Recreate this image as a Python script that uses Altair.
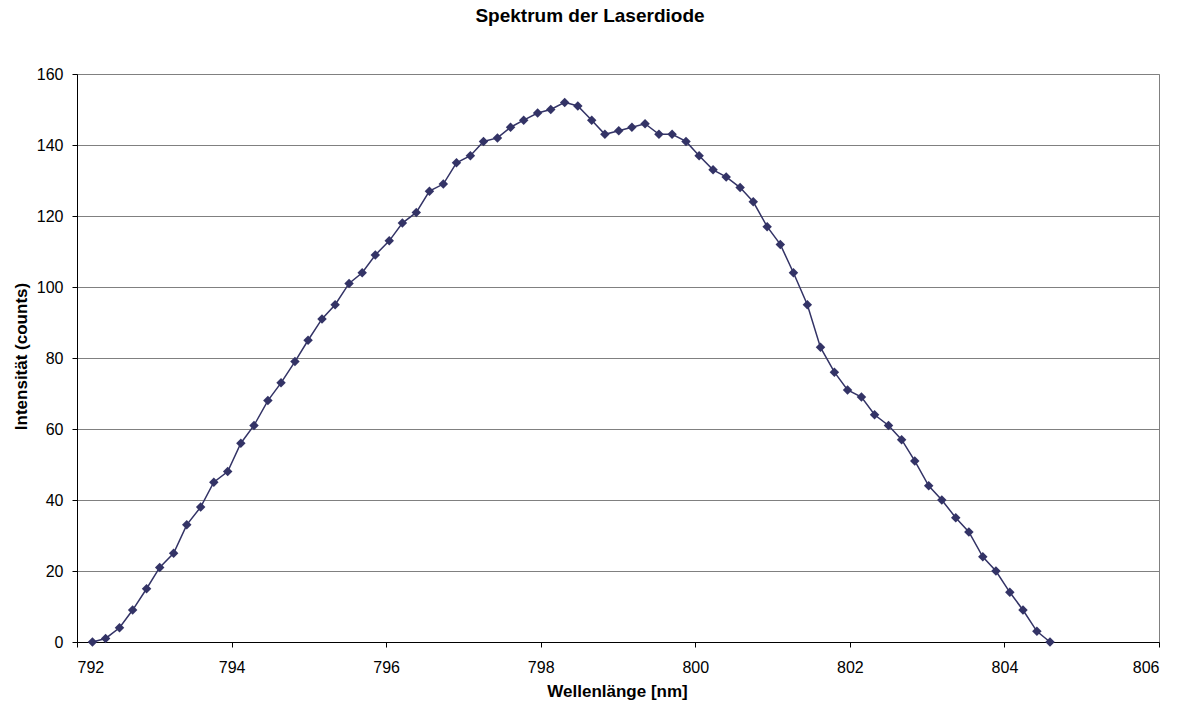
import altair as alt
import pandas as pd

# Wavelength grid of the spectrometer (nm)
wavelength_nm = [
    792.20, 792.37, 792.55, 792.72, 792.90, 793.07, 793.25, 793.42, 793.60, 793.77,
    793.95, 794.12, 794.29, 794.47, 794.64, 794.82, 794.99, 795.17, 795.34, 795.52,
    795.69, 795.86, 796.04, 796.21, 796.39, 796.56, 796.74, 796.91, 797.09, 797.26,
    797.44, 797.61, 797.78, 797.96, 798.13, 798.31, 798.48, 798.66, 798.83, 799.01,
    799.18, 799.35, 799.53, 799.70, 799.88, 800.05, 800.23, 800.40, 800.58, 800.75,
    800.93, 801.10, 801.27, 801.45, 801.62, 801.80, 801.97, 802.15, 802.32, 802.50,
    802.67, 802.84, 803.02, 803.19, 803.37, 803.54, 803.72, 803.89, 804.07, 804.24,
    804.42, 804.59,
]

# Measured intensity (counts)
counts = [
    0, 1, 4, 9, 15, 21, 25, 33, 38, 45,
    48, 56, 61, 68, 73, 79, 85, 91, 95, 101,
    104, 109, 113, 118, 121, 127, 129, 135, 137, 141,
    142, 145, 147, 149, 150, 152, 151, 147, 143, 144,
    145, 146, 143, 143, 141, 137, 133, 131, 128, 124,
    117, 112, 104, 95, 83, 76, 71, 69, 64, 61,
    57, 51, 44, 40, 35, 31, 24, 20, 14, 9,
    3, 0,
]

x_ticks = [792, 794, 796, 798, 800, 802, 804, 806]
y_ticks = [0, 20, 40, 60, 80, 100, 120, 140, 160]

df = pd.DataFrame({"wl": wavelength_nm, "counts": counts})

FONT = "Liberation Sans"
SERIES = "#333366"

x_enc = alt.X(
    "wl:Q",
    scale=alt.Scale(domain=[792, 806], nice=False, zero=False),
    axis=alt.Axis(
        title="Wellenlänge [nm]",
        values=x_ticks,
        format="d",
        grid=False,
        tickSize=5,
        labelPadding=12,
        titleX=540,
        titleY=54,
        titleBaseline="alphabetic",
    ),
)
y_enc = alt.Y(
    "counts:Q",
    scale=alt.Scale(domain=[0, 160], nice=False),
    axis=alt.Axis(
        title="Intensität (counts)",
        values=y_ticks,
        format="d",
        grid=True,
        tickSize=5,
        labelPadding=9,
        titleX=-51,
        titleY=282,
        titleAngle=-90,
        titleAlign="center",
        titleBaseline="alphabetic",
    ),
)

line = alt.Chart(df).mark_line(color=SERIES, strokeWidth=1.5).encode(x=x_enc, y=y_enc)
points = alt.Chart(df).mark_point(
    shape="diamond", filled=True, size=90, color=SERIES, opacity=1
).encode(x="wl:Q", y="counts:Q")

chart = (
    alt.layer(line, points)
    .properties(
        width=1082,
        height=568,
        autosize=alt.AutoSizeParams(type="none"),
        padding={"left": 77, "top": 74, "right": 25, "bottom": 69},
        title=alt.TitleParams(
            "Spektrum der Laserdiode",
            font=FONT,
            fontSize=19,
            fontWeight="bold",
            color="black",
            anchor="middle",
            frame="group",
            baseline="alphabetic",
            offset=25,
            dx=-28,
        ),
        background="white",
    )
    .configure_view(stroke="#808080", strokeWidth=1)
    .configure_axis(
        labelFont=FONT,
        labelFontSize=16,
        labelColor="black",
        titleFont=FONT,
        titleFontSize=17,
        titleFontWeight="bold",
        titleColor="black",
        domainColor="black",
        domainWidth=1,
        tickColor="black",
        gridColor="#808080",
        gridWidth=1,
    )
)

chart.save("out.html", embed_options={"renderer": "svg", "actions": False})
